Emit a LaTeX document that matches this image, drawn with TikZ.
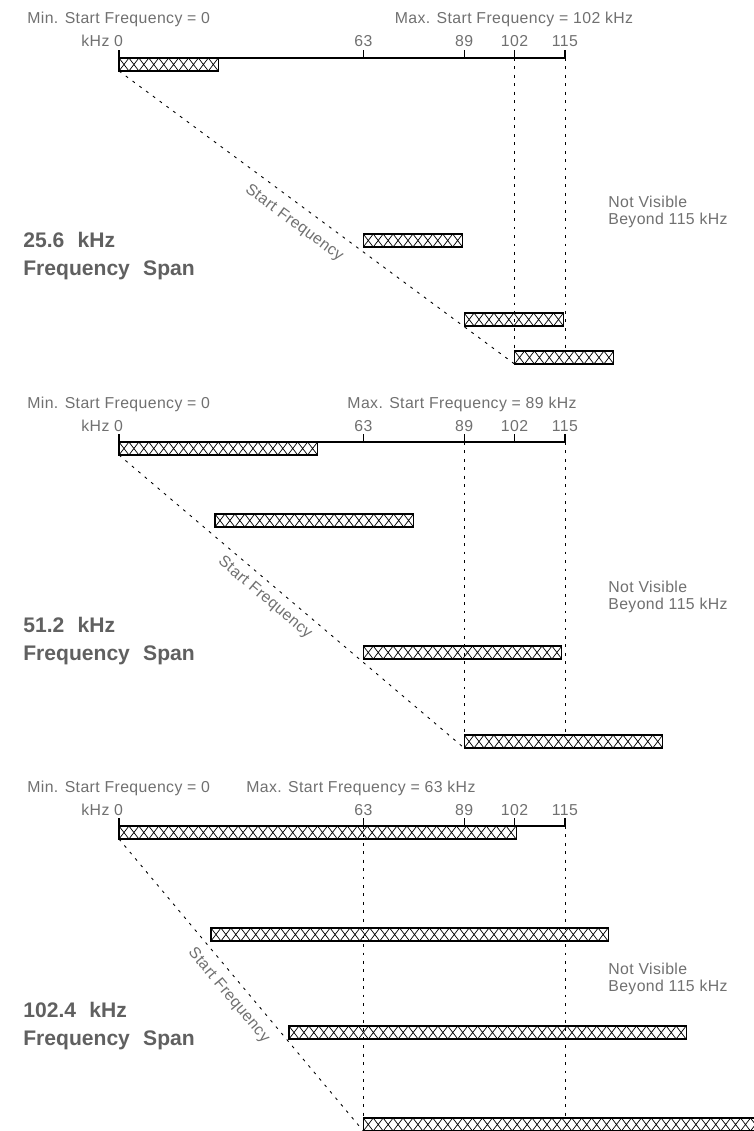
\documentclass[tikz,border=0pt]{standalone}
\usepackage{fontspec}
\setmainfont{Liberation Sans}
\newfontfamily\plotfont[LetterSpace=2.5]{Liberation Sans}
\usepackage{xcolor}

\definecolor{labelgray}{RGB}{112,112,112}
\definecolor{spangray}{RGB}{96,96,96}

% pixel position of a frequency (kHz) on the axis
\newcommand{\fx}[1]{119+3.878*#1}

% axis with ticks and labels: #1 = name, #2 = y of the axis line
\newcommand{\freqaxis}[2]{%
  \coordinate (#1-0) at ({\fx{0}},#2);
  \node[txt, anchor=base east] (#1-unit) at ({\fx{0}+4.4},{#2-11}) {kHz 0};
  \foreach \f in {63,89,102,115} {
    \coordinate (#1-\f) at ({\fx{\f}},#2);
    \draw[axisline] (#1-\f) -- ++(0,-8);
    \node[txt, anchor=base] (#1-lbl\f) at ({\fx{\f}},{#2-11}) {\f};
  }
  \draw[axisline] (#1-0) -- ++(0,-8);
  \draw[axisline] (#1-0) -- (#1-115);
}

\begin{document}
\begin{tikzpicture}[x=0.02cm, y=-0.02cm,
    txt/.style={text=labelgray, font=\plotfont\fontsize{9}{9.6}\selectfont, inner sep=0pt},
    note/.style={txt, align=left, anchor=west},
    span/.style={text=spangray, font=\fontsize{12}{16}\selectfont\bfseries, align=left, anchor=west, inner sep=0pt},
    axisline/.style={line width=0.6pt},
    guide/.style={line width=0.5pt, dash pattern=on 1.6pt off 3.2pt},
    hatchbar/.style={draw, line width=0.6pt, inner sep=0pt, outer sep=0pt, anchor=north west,
      minimum height=0.26cm, minimum width=#1*0.07757cm,
      path picture={\foreach \k in {0,...,40}
        \draw[line width=0.4pt] ([xshift=\k*0.19858cm]path picture bounding box.north west)
          -- ++(0.19858cm,-0.26cm) ++(-0.19858cm,0) -- ++(0.19858cm,0.26cm);}}]
    \useasboundingbox (0,0) rectangle (753,1131);

    % 25.6 kHz span
    \node[txt, anchor=base west] (min1) at (27,24) {Min. Start Frequency = 0};
    \node[txt, anchor=base] (max1) at (514,24) {Max. Start Frequency = 102 kHz};
    \freqaxis{a1}{58}
    \node[hatchbar=25.6] (b11) at (a1-0) {};
    \node[hatchbar=25.6] (b12) at ({\fx{63}},234) {};
    \node[hatchbar=25.6] (b13) at ({\fx{89}},313) {};
    \node[hatchbar=25.6] (b14) at ({\fx{102}},351) {};
    \draw[guide] (a1-102) -- (a1-102 |- b14.north);
    \draw[guide] (a1-115) -- (a1-115 |- b14.north);
    \draw[guide] (b11.south west) -- (b14.south west)
        node[txt, pos=0.47, sloped, below=6pt] (sf1) {Start Frequency};
    \node[note] (nv1) at (608,212) {Not Visible\\Beyond 115 kHz};
    \node[span] (sp1) at (23,256) {25.6\hspace{0.35em} kHz\\Frequency\hspace{0.35em} Span};

    % 51.2 kHz span
    \node[txt, anchor=base west] (min2) at (27,408) {Min. Start Frequency = 0};
    \node[txt, anchor=base] (max2) at (462,408) {Max. Start Frequency = 89 kHz};
    \freqaxis{a2}{442}
    \node[hatchbar=51.2] (b21) at (a2-0) {};
    \node[hatchbar=51.2] (b22) at (215,514) {};
    \node[hatchbar=51.2] (b23) at ({\fx{63}},646) {};
    \node[hatchbar=51.2] (b24) at ({\fx{89}},735) {};
    \draw[guide] (a2-89) -- (a2-89 |- b24.north);
    \draw[guide] (a2-115) -- (a2-115 |- b24.north);
    \draw[guide] (b21.south west) -- (b24.south west)
        node[txt, pos=0.45, sloped, below=4pt] (sf2) {Start Frequency};
    \node[note] (nv2) at (608,597) {Not Visible\\Beyond 115 kHz};
    \node[span] (sp2) at (23,641) {51.2\hspace{0.35em} kHz\\Frequency\hspace{0.35em} Span};

    % 102.4 kHz span
    \node[txt, anchor=base west] (min3) at (27,792) {Min. Start Frequency = 0};
    \node[txt, anchor=base west] (max3) at (246,792) {Max. Start Frequency = 63 kHz};
    \freqaxis{a3}{826}
    \node[hatchbar=102.4] (b31) at (a3-0) {};
    \node[hatchbar=102.4] (b32) at (211,928) {};
    \node[hatchbar=102.4] (b33) at (289,1026) {};
    \node[hatchbar=102.4] (b34) at ({\fx{63}},1118) {};
    \draw[guide] (a3-63) -- (a3-63 |- b34.north);
    \draw[guide] (a3-115) -- (a3-115 |- b34.north);
    \draw[guide] (b31.south west) -- (b34.south west)
        node[txt, pos=0.5, sloped, below=5pt] (sf3) {Start Frequency};
    \node[note] (nv3) at (608,979) {Not Visible\\Beyond 115 kHz};
    \node[span] (sp3) at (23,1026) {102.4\hspace{0.35em} kHz\\Frequency\hspace{0.35em} Span};
\end{tikzpicture}
\end{document}
